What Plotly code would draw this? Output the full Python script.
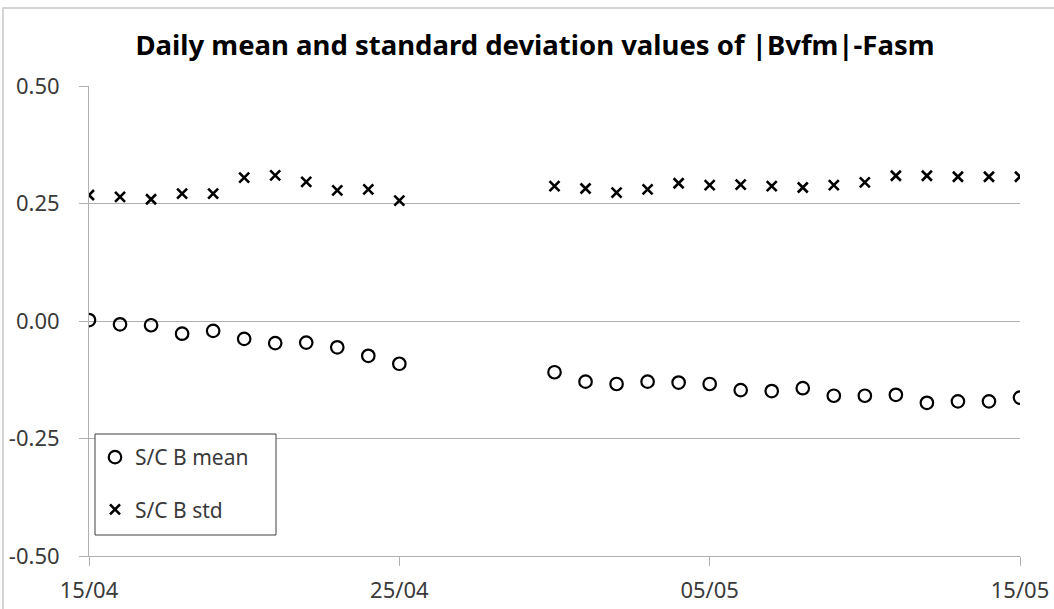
import plotly.graph_objects as go

dates_a = ["2016-04-%02d" % d for d in range(15, 26)]
dates_b = ["2016-04-30"] + ["2016-05-%02d" % d for d in range(1, 16)]
dates = dates_a + dates_b

mean_vals = [0.002, -0.007, -0.009, -0.027, -0.021, -0.038, -0.047, -0.046, -0.056, -0.074, -0.091,
             -0.109, -0.129, -0.134, -0.129, -0.131, -0.134, -0.147, -0.149, -0.143, -0.159, -0.159,
             -0.157, -0.174, -0.171, -0.171, -0.163]
std_vals = [0.268, 0.264, 0.259, 0.271, 0.271, 0.305, 0.310, 0.296, 0.278, 0.280, 0.256,
            0.287, 0.282, 0.273, 0.280, 0.293, 0.289, 0.290, 0.287, 0.284, 0.289, 0.295,
            0.309, 0.309, 0.307, 0.307, 0.307]

y_tickvals = [-0.5, -0.25, 0.0, 0.25, 0.5]
y_ticktext = ["-0.50", "-0.25", "0.00", "0.25", "0.50"]

grid = "#b0b0b0"
txt = "#3a3a3a"
font_family = "Noto Sans, Open Sans, DejaVu Sans, sans-serif"

W, H = 1054, 609
L, R, T, B = 89, 34, 86, 53
pw, ph = W - L - R, H - T - B


def px_x(x):
    return (x - L) / pw


def px_y(y):
    return (H - B - y) / ph


fig = go.Figure()
fig.add_trace(go.Scatter(
    x=dates, y=mean_vals, mode="markers", name="S/C B mean", legendgroup="a",
    marker=dict(symbol="circle-open", size=12.5, color="black", line=dict(width=2.2, color="black")),
))
fig.add_trace(go.Scatter(
    x=dates, y=std_vals, mode="markers", name="S/C B std", legendgroup="b",
    marker=dict(symbol="x-thin-open", size=10, color="black", line=dict(width=2.6, color="black")),
))

fig.update_layout(
    width=W, height=H,
    margin=dict(l=L, r=R, t=T, b=B, autoexpand=False),
    paper_bgcolor="white", plot_bgcolor="white",
    font=dict(family=font_family, size=22, color=txt),
    title=dict(text="<b>Daily mean and standard deviation values of |Bvfm|-Fasm</b>",
               x=535 / W, xanchor="center", y=1 - 45 / H, yanchor="middle",
               font=dict(size=27.5, color="black", family=font_family)),
    showlegend=True,
    legend=dict(x=px_x(95), y=px_y(437), xanchor="left", yanchor="top",
                borderwidth=0, bgcolor="rgba(0,0,0,0)",
                traceorder="grouped", tracegroupgap=22,
                font=dict(size=21, color=txt, family=font_family)),
    xaxis=dict(
        type="date", range=["2016-04-15", "2016-05-15"],
        tick0="2016-04-15", dtick=10 * 86400000, tickformat="%d/%m",
        showgrid=False, showline=True, linecolor=grid, linewidth=1,
        ticks="outside", ticklen=9, tickcolor=grid, ticklabelstandoff=6,
        tickfont=dict(size=22, color=txt), zeroline=False, automargin=False,
    ),
    yaxis=dict(
        range=[-0.5, 0.5], tickvals=y_tickvals, ticktext=y_ticktext,
        showgrid=True, gridcolor=grid, gridwidth=1,
        showline=True, linecolor=grid, linewidth=1,
        ticks="outside", ticklen=9, tickcolor=grid, ticklabelstandoff=15,
        zeroline=True, zerolinecolor=grid, zerolinewidth=1,
        tickfont=dict(size=22, color=txt), automargin=False,
    ),
    shapes=[
        dict(type="rect", xref="paper", yref="paper",
             x0=px_x(3), x1=px_x(1070), y0=px_y(620), y1=px_y(8),
             line=dict(color="#c8c8c8", width=1.5), fillcolor="rgba(0,0,0,0)", layer="below"),
        dict(type="rect", xref="paper", yref="paper",
             x0=px_x(95), x1=px_x(276), y0=px_y(535), y1=px_y(434),
             line=dict(color="#404040", width=1), fillcolor="white", layer="above"),
    ],
)

fig.write_html("out.html", config={"displayModeBar": False},
               post_script="document.body.style.margin='0';document.body.style.overflow='hidden';")
